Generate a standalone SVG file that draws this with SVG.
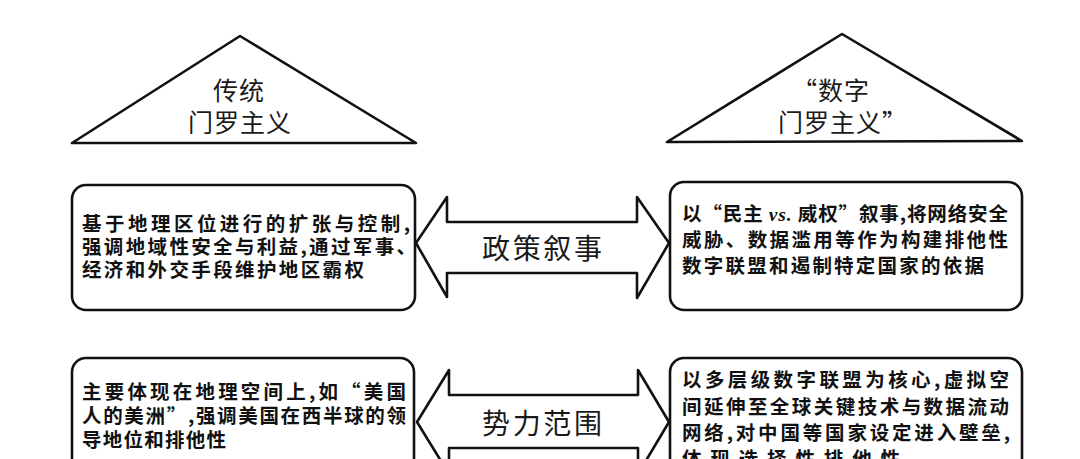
<svg xmlns="http://www.w3.org/2000/svg" width="1080" height="459" viewBox="0 0 1080 459">
  <style>
    .shape { fill: #ffffff; stroke: #111111; stroke-width: 2.6; stroke-linejoin: round; }
    .tri { font-family: "Noto Sans CJK SC", "Noto Sans", sans-serif; font-size: 25px; letter-spacing: 1px; fill: #1a1a1a; }
    .body { font-family: "Noto Sans CJK SC", "Noto Sans", sans-serif; font-size: 19.5px; font-weight: 700; fill: #111111; }
    .lab { font-family: "Noto Sans CJK SC", "Noto Sans", sans-serif; font-size: 28px; fill: #1a1a1a; }
    .vs { font-family: "Liberation Serif", serif; font-style: italic; font-weight: 700; }
  </style>
  <rect width="1080" height="459" fill="#ffffff"/>

  <g id="tri-traditional">
    <polygon class="shape" points="240,36 72,143 416,143"/>
    <text class="tri" x="213" y="100">传统</text>
    <text class="tri" x="188" y="132">门罗主义</text>
  </g>

  <g id="tri-digital">
    <polygon class="shape" points="842,34 667,142 1022,141"/>
    <text class="tri" x="792" y="100">“数字</text>
    <text class="tri" x="778" y="132">门罗主义”</text>
  </g>

  <g id="box-trad-narrative">
    <rect class="shape" x="72" y="185" width="343" height="125" rx="14"/>
    <text class="body" x="82" y="231" textLength="328" lengthAdjust="spacing">基于地理区位进行的扩张与控制,</text>
    <text class="body" x="82" y="254" textLength="334" lengthAdjust="spacing">强调地域性安全与利益,通过军事、</text>
    <text class="body" x="82" y="277" textLength="282" lengthAdjust="spacing">经济和外交手段维护地区霸权</text>
  </g>

  <g id="box-digital-narrative">
    <rect class="shape" x="670" y="182" width="352" height="128" rx="14"/>
    <text class="body" x="682" y="221" textLength="326" lengthAdjust="spacing">以“民主 <tspan class="vs">vs.</tspan> 威权”叙事,将网络安全</text>
    <text class="body" x="682" y="247" textLength="326" lengthAdjust="spacing">威胁、数据滥用等作为构建排他性</text>
    <text class="body" x="682" y="273" textLength="302" lengthAdjust="spacing">数字联盟和遏制特定国家的依据</text>
  </g>

  <g id="box-trad-sphere">
    <rect class="shape" x="72" y="358" width="342" height="140" rx="14"/>
    <text class="body" x="82" y="399" textLength="324" lengthAdjust="spacing">主要体现在地理空间上,如“美国</text>
    <text class="body" x="82" y="423" textLength="324" lengthAdjust="spacing">人的美洲”,强调美国在西半球的领</text>
    <text class="body" x="82" y="447" textLength="144" lengthAdjust="spacing">导地位和排他性</text>
  </g>

  <g id="box-digital-sphere">
    <rect class="shape" x="670" y="358" width="352" height="140" rx="14"/>
    <text class="body" x="682" y="387" textLength="327" lengthAdjust="spacing">以多层级数字联盟为核心,虚拟空</text>
    <text class="body" x="682" y="414" textLength="327" lengthAdjust="spacing">间延伸至全球关键技术与数据流动</text>
    <text class="body" x="682" y="440" textLength="328" lengthAdjust="spacing">网络,对中国等国家设定进入壁垒,</text>
    <text class="body" x="682" y="466" textLength="218" lengthAdjust="spacing">体现选择性排他性</text>
  </g>

  <g id="connectors">
    <g id="arrow-narrative">
      <polygon class="shape" points="416,243 447,197 447,222 637,222 637,197 669,243 637,298 637,273 447,273 447,297"/>
      <text class="lab" x="482" y="259" textLength="120" lengthAdjust="spacing">政策叙事</text>
    </g>
    <g id="arrow-sphere">
      <polygon class="shape" points="417,422 449,370 449,395 638,395 638,370 669,422 638,474 638,448 449,448 449,474"/>
      <text class="lab" x="482" y="434" textLength="120" lengthAdjust="spacing">势力范围</text>
    </g>
  </g>
</svg>
